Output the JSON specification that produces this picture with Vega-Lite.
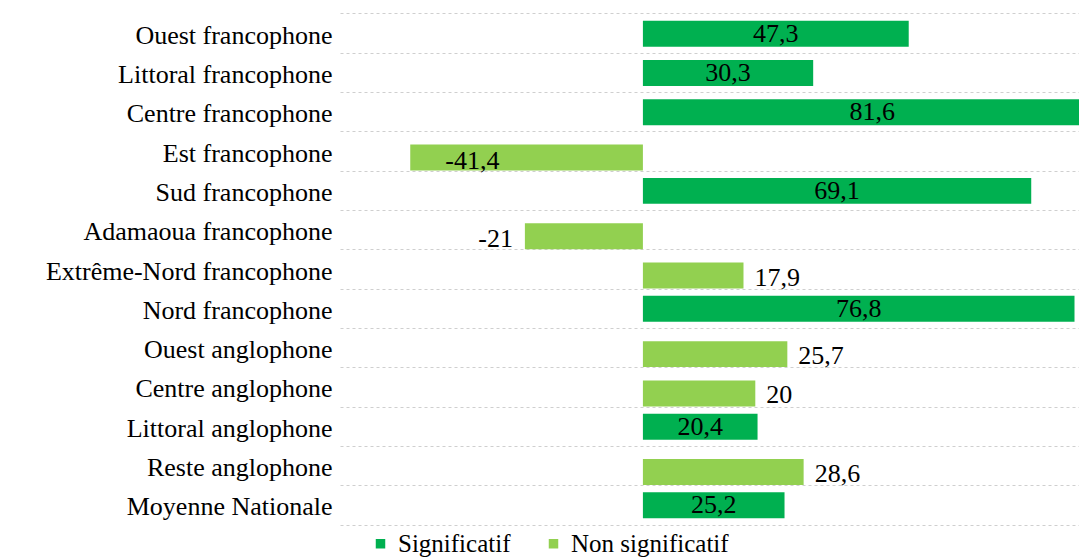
{
  "$schema": "https://vega.github.io/schema/vega-lite/v6.json",
  "autosize": {"type": "none"},
  "width": 739,
  "height": 511,
  "padding": {"left": 340, "top": 14, "right": 0, "bottom": 33},
  "background": "white",
  "config": {
    "view": {"stroke": null},
    "font": "Liberation Serif",
    "text": {"font": "Liberation Serif"}
  },
  "data": {
    "values": [
      {"region": "Ouest francophone", "value": 47.3, "statut": "Significatif"},
      {"region": "Littoral francophone", "value": 30.3, "statut": "Significatif"},
      {"region": "Centre francophone", "value": 81.6, "statut": "Significatif"},
      {"region": "Est francophone", "value": -41.4, "statut": "Non significatif"},
      {"region": "Sud francophone", "value": 69.1, "statut": "Significatif"},
      {"region": "Adamaoua francophone", "value": -21, "statut": "Non significatif"},
      {"region": "Extrême-Nord francophone", "value": 17.9, "statut": "Non significatif"},
      {"region": "Nord francophone", "value": 76.8, "statut": "Significatif"},
      {"region": "Ouest anglophone", "value": 25.7, "statut": "Non significatif"},
      {"region": "Centre anglophone", "value": 20, "statut": "Non significatif"},
      {"region": "Littoral anglophone", "value": 20.4, "statut": "Significatif"},
      {"region": "Reste anglophone", "value": 28.6, "statut": "Non significatif"},
      {"region": "Moyenne Nationale", "value": 25.2, "statut": "Significatif"}
    ]
  },
  "transform": [
    {"calculate": "replace(toString(datum.value), '.', ',')", "as": "etiquette"},
    {"calculate": "datum.value / 2", "as": "milieu"}
  ],
  "encoding": {
    "y": {
      "field": "region",
      "type": "nominal",
      "sort": ["Ouest francophone", "Littoral francophone", "Centre francophone", "Est francophone", "Sud francophone", "Adamaoua francophone", "Extrême-Nord francophone", "Nord francophone", "Ouest anglophone", "Centre anglophone", "Littoral anglophone", "Reste anglophone", "Moyenne Nationale"],
      "title": null,
      "scale": {"paddingInner": 0.34, "paddingOuter": 0.17},
      "axis": {
        "labelFont": "Liberation Serif",
        "labelFontSize": 26,
        "labelColor": "#000000",
        "labelPadding": 8,
        "labelLimit": 0,
        "labelOffset": 2,
        "ticks": false,
        "domain": false,
        "grid": true,
        "bandPosition": -0.2576,
        "gridDash": [3, 3],
        "gridColor": "#cfcfcf",
        "gridWidth": 1
      }
    }
  },
  "layer": [
    {
      "transform": [{"filter": "datum.statut == 'Significatif'"}],
      "mark": {"type": "bar", "clip": true},
      "encoding": {
        "x": {
          "field": "value",
          "type": "quantitative",
          "scale": {"domain": [-53.9, 77.6], "nice": false, "zero": false},
          "title": null,
          "axis": {
            "labels": false,
            "ticks": false,
            "grid": false,
            "domain": true,
            "domainDash": [3, 3],
            "domainColor": "#cfcfcf"
          }
        },
        "color": {
          "field": "statut",
          "type": "nominal",
          "scale": {"domain": ["Significatif", "Non significatif"], "range": ["#00B050", "#92D050"]},
          "legend": {
            "title": null,
            "orient": "none",
            "legendX": 28,
            "legendY": 517,
            "direction": "horizontal",
            "columns": 2,
            "symbolType": "square",
            "symbolSize": 90,
            "symbolStrokeWidth": 0,
            "labelFont": "Liberation Serif",
            "labelFontSize": 25,
            "labelColor": "#000000",
            "labelLimit": 0,
            "columnPadding": 30,
            "labelOffset": 5
          }
        }
      }
    },
    {
      "transform": [{"filter": "datum.statut == 'Non significatif'"}],
      "mark": {"type": "bar", "clip": true, "yOffset": 6},
      "encoding": {
        "x": {"field": "value", "type": "quantitative"},
        "color": {"field": "statut", "type": "nominal"}
      }
    },
    {
      "mark": {"type": "rule", "color": "#d6d6d6", "strokeWidth": 1},
      "encoding": {"x": {"datum": 0}}
    },
    {
      "transform": [{"filter": "datum.statut == 'Significatif'"}],
      "mark": {"type": "text", "fontSize": 26, "color": "#000000", "align": "center", "baseline": "middle", "dy": 0},
      "encoding": {
        "x": {"field": "milieu", "type": "quantitative"},
        "text": {"field": "etiquette"}
      }
    },
    {
      "transform": [{"filter": "datum.statut == 'Non significatif' && datum.value < -30"}],
      "mark": {"type": "text", "fontSize": 26, "color": "#000000", "align": "left", "baseline": "middle", "dx": 35, "dy": 9},
      "encoding": {
        "x": {"field": "value", "type": "quantitative"},
        "text": {"field": "etiquette"}
      }
    },
    {
      "transform": [{"filter": "datum.statut == 'Non significatif' && datum.value > 0"}],
      "mark": {"type": "text", "fontSize": 26, "color": "#000000", "align": "left", "baseline": "middle", "dx": 11, "dy": 8},
      "encoding": {
        "x": {"field": "value", "type": "quantitative"},
        "text": {"field": "etiquette"}
      }
    },
    {
      "transform": [{"filter": "datum.statut == 'Non significatif' && datum.value < 0 && datum.value > -30"}],
      "mark": {"type": "text", "fontSize": 26, "color": "#000000", "align": "right", "baseline": "middle", "dx": -12, "dy": 9},
      "encoding": {
        "x": {"field": "value", "type": "quantitative"},
        "text": {"field": "etiquette"}
      }
    }
  ]
}
